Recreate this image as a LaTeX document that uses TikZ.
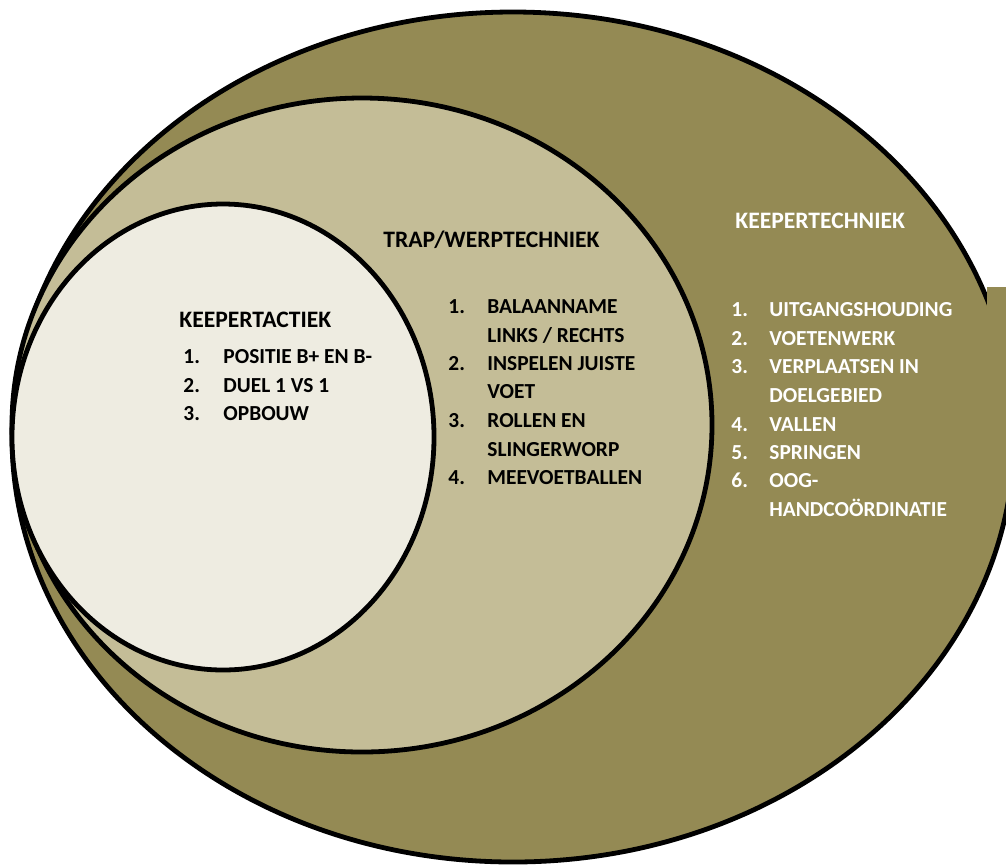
\documentclass[tikz,border=0pt]{standalone}
\usepackage{fontspec}
\setmainfont{Carlito}
\definecolor{olijf}{HTML}{948A54}
\definecolor{zand}{HTML}{C4BD97}
\definecolor{creme}{HTML}{EEECE1}
\tikzset{
  rand/.style={draw=black, line width=2.4pt},
  kop/.style={anchor=base west, inner sep=0pt, font=\fontsize{11.8}{14}\bfseries\selectfont},
  punt/.style={anchor=base west, inner sep=0pt, font=\fontsize{10.7}{14}\bfseries\selectfont}
}
\begin{document}
\begin{tikzpicture}[x=0.5pt,y=-0.5pt]
\useasboundingbox (0,0) rectangle (1006,864);
% ellipsen
\path [rand, fill=olijf] (513,437) ellipse [x radius=501, y radius=425];
\fill [olijf] (987,287) rectangle (1006,470);
\path [rand, fill=zand] (362,425) ellipse [x radius=350, y radius=327];
\path [rand, fill=creme] (223,437) ellipse [x radius=211, y radius=233];
% keepertactiek
\node [kop] (tactiek) at (179,327) {KEEPERTACTIEK};
\node [punt] (t1n) at (183,363) {1.};
\node [punt] (t1) at (223,363) {POSITIE B+ EN B-};
\node [punt] (t2n) at (183,392) {2.};
\node [punt] (t2) at (223,392) {DUEL 1 VS 1};
\node [punt] (t3n) at (183,420) {3.};
\node [punt] (t3) at (223,420) {OPBOUW};
% trap/werptechniek
\node [kop] (trap) at (383,247) {TRAP/WERPTECHNIEK};
\node [punt] (w1n) at (448,313) {1.};
\node [punt] (w1) at (487,313) {BALAANNAME};
\node [punt] (w1b) at (487,342) {LINKS / RECHTS};
\node [punt] (w2n) at (448,370) {2.};
\node [punt] (w2) at (487,370) {INSPELEN JUISTE};
\node [punt] (w2b) at (487,398) {VOET};
\node [punt] (w3n) at (448,427) {3.};
\node [punt] (w3) at (487,427) {ROLLEN EN};
\node [punt] (w3b) at (487,456) {SLINGERWORP};
\node [punt] (w4n) at (448,484) {4.};
\node [punt] (w4) at (487,484) {MEEVOETBALLEN};
% keepertechniek
\begin{scope}[text=white]
\node [kop] (techniek) at (735,228) {KEEPERTECHNIEK};
\node [punt] (k1n) at (731,316) {1.};
\node [punt] (k1) at (769,316) {UITGANGSHOUDING};
\node [punt] (k2n) at (731,345) {2.};
\node [punt] (k2) at (769,345) {VOETENWERK};
\node [punt] (k3n) at (731,373) {3.};
\node [punt] (k3) at (769,373) {VERPLAATSEN IN};
\node [punt] (k3b) at (769,402) {DOELGEBIED};
\node [punt] (k4n) at (731,431) {4.};
\node [punt] (k4) at (769,431) {VALLEN};
\node [punt] (k5n) at (731,459) {5.};
\node [punt] (k5) at (769,459) {SPRINGEN};
\node [punt] (k6n) at (731,487) {6.};
\node [punt] (k6) at (769,487) {OOG-};
\node [punt] (k6b) at (769,516) {HANDCOÖRDINATIE};
\end{scope}
\end{tikzpicture}
\end{document}
